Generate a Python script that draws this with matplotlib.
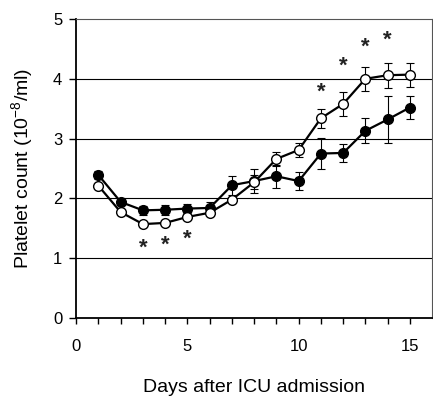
import matplotlib
matplotlib.use('Agg')
import matplotlib.pyplot as plt

plt.rcParams['font.family'] = ['Liberation Sans', 'DejaVu Sans']
plt.rcParams['mathtext.fontset'] = 'custom'
plt.rcParams['mathtext.rm'] = 'Liberation Sans'
plt.rcParams['mathtext.default'] = 'rm'

days = [1, 2, 3, 4, 5, 6, 7, 8, 9, 10, 11, 12, 13, 14, 15]
filledMean = [2.39, 1.94, 1.80, 1.81, 1.83, 1.84, 2.22, 2.29, 2.37, 2.29, 2.75, 2.76, 3.13, 3.32, 3.52]
filledErr = [0.06, 0.05, 0.08, 0.08, 0.08, 0.10, 0.16, 0.20, 0.19, 0.15, 0.26, 0.15, 0.21, 0.40, 0.20]
openMean = [2.21, 1.77, 1.57, 1.59, 1.69, 1.76, 1.98, 2.27, 2.66, 2.81, 3.34, 3.58, 4.00, 4.06, 4.07]
openErr = [0.03, 0.03, 0.03, 0.03, 0.03, 0.04, 0.05, 0.12, 0.11, 0.12, 0.16, 0.20, 0.20, 0.21, 0.20]

# significance markers (day, height)
starDays = [3, 4, 5, 11, 12, 13, 14]
starY = [1.16, 1.21, 1.31, 3.78, 4.21, 4.52, 4.64]

xTicks = [0, 5, 10, 15]
yTicks = [0, 1, 2, 3, 4, 5]

fig = plt.figure(figsize=(4.33, 3.96), dpi=100)
ax = fig.add_axes([0.176, 0.197, 0.822, 0.755])

for y in yTicks[1:-1]:
    ax.axhline(y, color='black', linewidth=0.8, zorder=1)

ax.errorbar(days, filledMean, yerr=filledErr, fmt='none', ecolor='black',
            elinewidth=0.8, capsize=3, capthick=0.8, zorder=2)
ax.plot(days, filledMean, color='black', linewidth=1.6, marker='o',
        markersize=7, markerfacecolor='black', markeredgecolor='black', zorder=3)

ax.errorbar(days, openMean, yerr=openErr, fmt='none', ecolor='black',
            elinewidth=0.8, capsize=3, capthick=0.8, zorder=4)
ax.plot(days, openMean, color='black', linewidth=1.6, marker='o',
        markersize=7, markerfacecolor='white', markeredgecolor='black',
        markeredgewidth=1.0, zorder=5)

for d, s in zip(starDays, starY):
    ax.text(d, s, '*', ha='center', va='center', fontsize=16, fontweight='bold',
            color='#222222')

ax.set_xlim(0, 16)
ax.set_ylim(0, 5)
ax.set_xticks(xTicks)
ax.set_xticks(range(0, 16), minor=True)
ax.set_yticks(yTicks)

ax.tick_params(axis='x', which='both', direction='out', length=4, width=1, pad=11, labelsize=12)
ax.tick_params(axis='y', direction='out', length=5, width=1, pad=5, labelsize=12)

for side in ['left', 'bottom']:
    ax.spines[side].set_linewidth(1.3)
for side in ['top', 'right']:
    ax.spines[side].set_linewidth(0.8)
    ax.spines[side].set_color('#555555')

ax.set_xlabel('Days after ICU admission', fontsize=14, labelpad=18)
ax.set_ylabel('Platelet count (10$^{-8}$/ml)', fontsize=14, labelpad=13)

fig.savefig('out.png', dpi=100)
